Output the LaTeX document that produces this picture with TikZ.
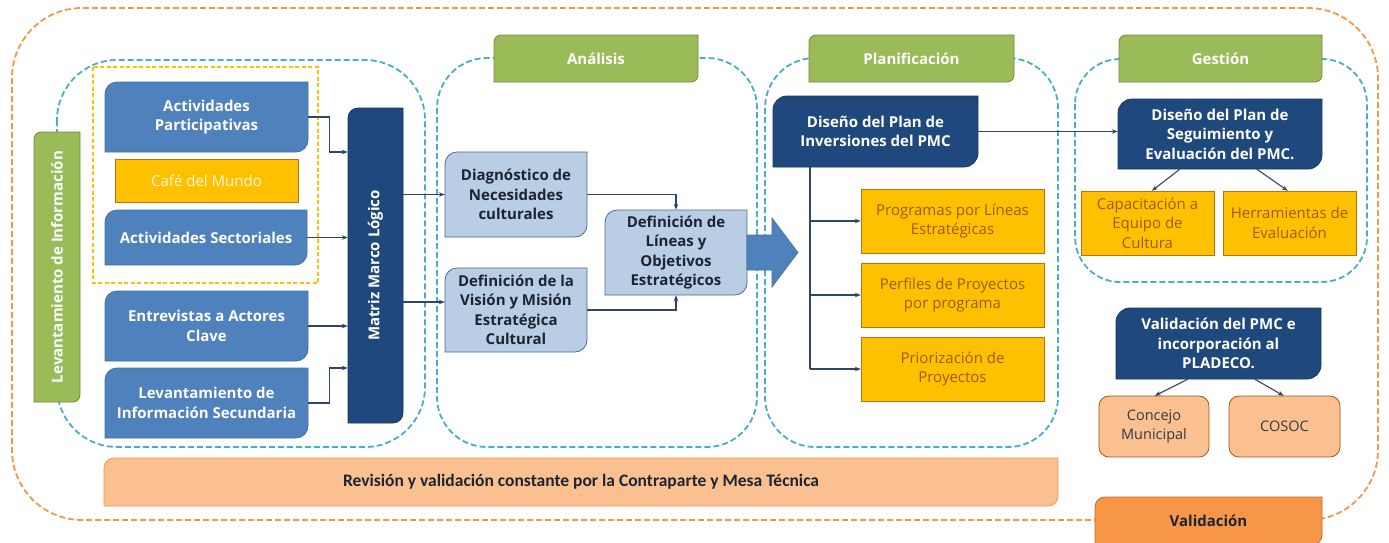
\documentclass[tikz,border=0pt]{standalone}
\usepackage{fontspec}
\setmainfont{Open Sans}
\newfontfamily\condfont{Carlito}
\usetikzlibrary{arrows.meta}
\pgfdeclarelayer{back}\pgfdeclarelayer{mid}\pgfsetlayers{back,mid,main}
\definecolor{bluefill}{HTML}{4F81BD}
\definecolor{bluedraw}{HTML}{41719C}
\definecolor{navy}{HTML}{1F497D}
\definecolor{navydraw}{HTML}{17375E}
\definecolor{lblue}{HTML}{B9CDE5}
\definecolor{lbluedraw}{HTML}{4A6A8E}
\definecolor{grn}{HTML}{9BBB59}
\definecolor{grndraw}{HTML}{71893F}
\definecolor{gold}{HTML}{FFC000}
\definecolor{golddraw}{RGB}{190,110,20}
\definecolor{goldtext}{RGB}{156,92,0}
\definecolor{cafetext}{RGB}{255,246,220}
\definecolor{peach}{HTML}{FAC090}
\definecolor{peachdraw}{HTML}{A0541A}
\definecolor{orng}{HTML}{F79646}
\definecolor{orngdraw}{HTML}{B66D31}
\definecolor{dashblue}{HTML}{4BACC6}
\definecolor{txtdark}{RGB}{28,36,50}
\definecolor{conncol}{RGB}{45,70,105}
\newcommand\dbx[9]{%
\begin{pgfonlayer}{mid}
\path[#7] (#2,#5) -- (#2,#3+#6) arc[start angle=180,end angle=270,radius=#6] -- (#4,#3) -- (#4,#5-#6) arc[start angle=0,end angle=90,radius=#6] -- cycle;
\end{pgfonlayer}
\node[inner sep=0pt,minimum width={(#4-#2)*1pt},minimum height={(#5-#3)*1pt},#8] (#1) at ({(#2+#4)/2},{(#3+#5)/2}) {#9};}
\newcommand\sbx[9]{%
\begin{pgfonlayer}{mid}
\path[#7,rounded corners=#6] (#2,#3) rectangle (#4,#5);
\end{pgfonlayer}
\node[inner sep=0pt,minimum width={(#4-#2)*1pt},minimum height={(#5-#3)*1pt},#8] (#1) at ({(#2+#4)/2},{(#3+#5)/2}) {#9};}
\tikzset{
 wb/.style={font=\fontsize{15}{19.5}\selectfont\bfseries, text=white, align=center},
 db/.style={font=\fontsize{15}{19.5}\selectfont\bfseries, text=txtdark, align=center},
 gt/.style={font=\fontsize{15}{19.5}\selectfont, text=goldtext, align=center},
 pt/.style={font=\fontsize{14.5}{19.5}\selectfont, text=txtdark!90, align=center},
 blueshape/.style={fill=bluefill, draw=bluedraw, line width=0.8pt},
 navyshape/.style={fill=navy, draw=navydraw, line width=0.8pt},
 lblueshape/.style={fill=lblue, draw=lbluedraw, line width=0.8pt},
 grnshape/.style={fill=grn, draw=grndraw, line width=0.8pt},
 goldshape/.style={fill=gold, draw=golddraw, line width=0.8pt},
 peachshape/.style={fill=peach, draw=peachdraw, line width=0.8pt},
 frame/.style={draw=dashblue, line width=1.8pt, dash pattern=on 6pt off 3pt},
 conn/.style={draw=conncol, line width=1.1pt, -{Stealth[length=6pt,width=4.5pt]}},
 plain/.style={draw=conncol, line width=1.1pt},
}
\begin{document}
\begin{tikzpicture}[x=1pt,y=1pt,yscale=-1]
\useasboundingbox (0,0) rectangle (1389,542);
\begin{pgfonlayer}{back}
\draw[draw=orng, line width=1.8pt, dash pattern=on 6pt off 3pt, rounded corners=70] (12,8) rectangle (1378,520);
\draw[frame, rounded corners=60] (57,60) rectangle (425,447);
\draw[frame, rounded corners=50] (437,58) rectangle (757,447);
\draw[frame, rounded corners=50] (765,58) rectangle (1058,447);
\draw[frame, rounded corners=45] (1075,59) rectangle (1367,282);
\draw[draw=gold, line width=1.4pt, dash pattern=on 4pt off 2.5pt] (93,67) rectangle (318,283);
\end{pgfonlayer}
% green labels
\dbx{ana}{494}{35}{698}{82}{7}{grnshape}{wb}{Análisis}
\dbx{pla}{809}{35}{1014}{82}{7}{grnshape}{wb}{Planificación}
\dbx{ges}{1119}{35}{1322}{82}{7}{grnshape}{wb}{Gestión}
\dbx{lev}{34}{132}{80}{402}{7}{grnshape}{wb}{\rotatebox{90}{Levantamiento de Información}}
% levantamiento
\dbx{ap}{105}{82}{308}{152}{12}{blueshape}{wb}{Actividades\\Participativas}
\sbx{cafe}{115}{159}{298}{202}{0pt}{goldshape}{font=\fontsize{15}{19}\selectfont, text=cafetext}{Café del Mundo}
\dbx{as}{105}{210}{307}{265}{12}{blueshape}{wb}{Actividades Sectoriales}
\dbx{en}{105}{291}{308}{361}{12}{blueshape}{wb}{Entrevistas a Actores\\Clave}
\dbx{ls}{105}{368}{308}{438}{12}{blueshape}{wb}{Levantamiento de\\Información Secundaria}
\dbx{mm}{348}{108}{403}{423}{10}{navyshape}{wb}{\rotatebox{90}{Matriz Marco Lógico}}
% analisis
\dbx{dn}{445}{152}{587}{237}{12}{lblueshape}{db}{Diagnóstico de\\Necesidades\\culturales}
\dbx{dv}{445}{268}{587}{352}{12}{lblueshape}{db}{Definición de la\\Visión y Misión\\Estratégica\\Cultural}
\dbx{dl}{605}{210}{747}{295}{12}{lblueshape}{db}{Definición de\\Líneas y\\Objetivos\\Estratégicos}
\begin{pgfonlayer}{mid}
\path[fill=bluefill, draw=bluedraw, line width=0.6pt] (747,235) -- (772,235) -- (772,218) -- (798,252.5) -- (772,287) -- (772,270) -- (747,270) -- cycle;
\end{pgfonlayer}
% planificacion
\dbx{dp}{773}{96}{978}{167}{14}{navyshape}{wb}{Diseño del Plan de\\Inversiones del PMC}
\sbx{p1}{861}{189}{1044}{253}{0pt}{goldshape}{gt}{Programas por Líneas\\Estratégicas}
\sbx{p2}{861}{263}{1044}{327}{0pt}{goldshape}{gt}{Perfiles de Proyectos\\por programa}
\sbx{p3}{861}{337}{1044}{401}{0pt}{goldshape}{gt}{Priorización de\\Proyectos}
% gestion
\dbx{ds}{1118}{99}{1322}{169}{14}{navyshape}{wb}{Diseño del Plan de\\Seguimiento y\\Evaluación del PMC.}
\sbx{g1}{1081}{191}{1214}{255}{0pt}{goldshape}{gt}{Capacitación a\\Equipo de\\Cultura}
\sbx{g2}{1223}{191}{1356}{255}{0pt}{goldshape}{gt}{Herramientas de\\Evaluación}
% validacion
\dbx{vp}{1116}{308}{1321}{379}{14}{navyshape}{wb}{Validación del PMC e\\incorporación al\\PLADECO.}
\sbx{cm}{1099}{396}{1209}{457}{10pt}{peachshape}{pt}{Concejo\\Municipal}
\sbx{co}{1229}{396}{1340}{457}{10pt}{peachshape}{pt}{COSOC}
\dbx{val}{1095}{497}{1322}{545}{10}{fill=orng, draw=orngdraw, line width=0.8pt}{db}{Validación}
\dbx{rev}{104}{458}{1058}{506}{10}{fill=peach, draw=orng, line width=0.8pt}{font=\condfont\fontsize{17.5}{20}\selectfont\bfseries, text=txtdark}{Revisión y validación constante por la Contraparte y Mesa Técnica}
% connectors
\draw[conn] (ap.east) -- ++(21,0) |- (mm.west |- 0,152);
\draw[conn] (as.east) -- (as.east -| mm.west);
\draw[conn] (en.east) -- (en.east -| mm.west);
\draw[conn] (ls.east) -- ++(21,0) |- (mm.west |- 0,368);
\draw[conn] (mm.east |- dn.west) -- (dn.west);
\draw[conn] (mm.east |- 0,302) -- (dv.west |- 0,302);
\draw[conn] (dn.east) -| (dl.north);
\draw[conn] (dv.east) -| (dl.south);
\coordinate (tr) at (810,167);
\draw[plain] (dp.south -| tr) -- (tr |- p3.west);
\draw[conn] (tr |- p1.west) -- (p1.west);
\draw[conn] (tr |- p2.west) -- (p2.west);
\draw[conn] (tr |- p3.west) -- (p3.west);
\draw[conn] (dp.east) -- (dp.east -| ds.west);
\draw[conn] ([xshift=62pt]ds.south west) -- ([xshift=71pt]g1.north west);
\draw[conn] ([xshift=139pt]ds.south west) -- ([xshift=65pt]g2.north west);
\draw[conn] ([xshift=72pt]vp.south west) -- ([xshift=56pt]cm.north west);
\draw[conn] ([xshift=139pt]vp.south west) -- ([xshift=55pt]co.north west);
\end{tikzpicture}
\end{document}
